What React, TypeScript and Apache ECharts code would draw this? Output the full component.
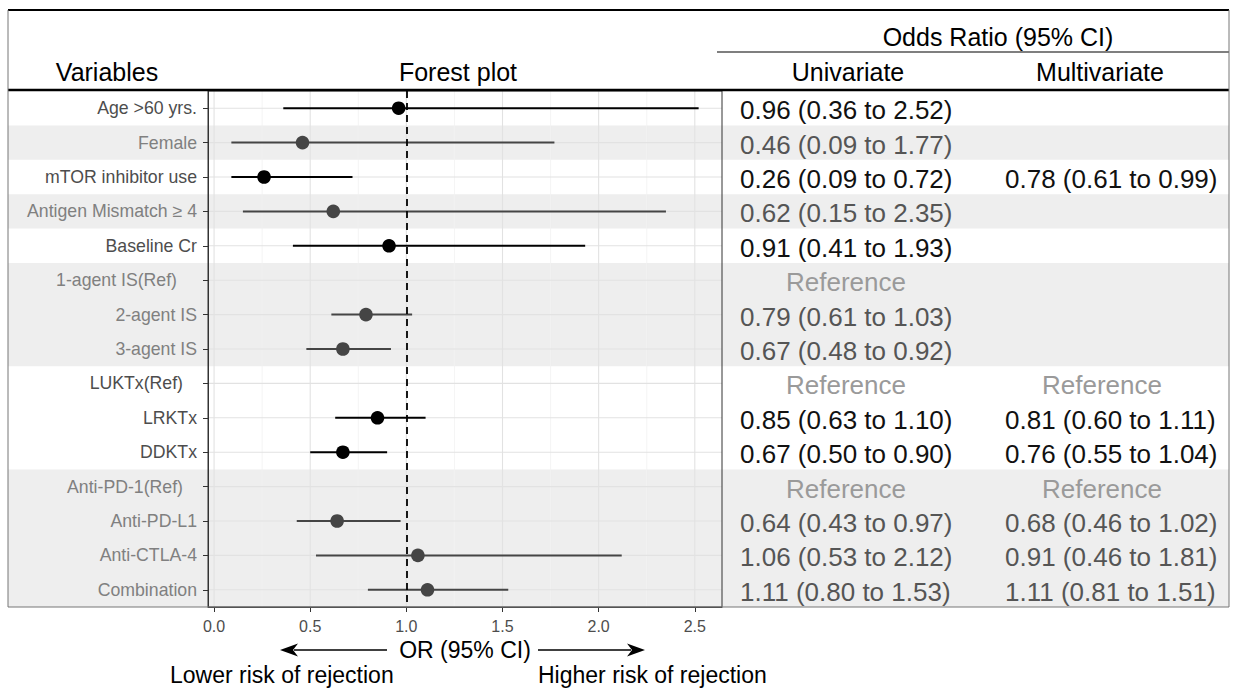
import React, { useEffect, useRef } from "react";
import * as echarts from "echarts";

// ---------- data ----------
const variables = [
  "Age >60 yrs.",
  "Female",
  "mTOR inhibitor use",
  "Antigen Mismatch \u2265 4",
  "Baseline Cr",
  "1-agent IS(Ref)",
  "2-agent IS",
  "3-agent IS",
  "LUKTx(Ref)",
  "LRKTx",
  "DDKTx",
  "Anti-PD-1(Ref)",
  "Anti-PD-L1",
  "Anti-CTLA-4",
  "Combination",
];
const orValues = [0.96, 0.46, 0.26, 0.62, 0.91, null, 0.79, 0.67, null, 0.85, 0.67, null, 0.64, 1.06, 1.11];
const ciLower = [0.36, 0.09, 0.09, 0.15, 0.41, null, 0.61, 0.48, null, 0.63, 0.5, null, 0.43, 0.53, 0.8];
const ciUpper = [2.52, 1.77, 0.72, 2.35, 1.93, null, 1.03, 0.92, null, 1.1, 0.9, null, 0.97, 2.12, 1.53];
const univariateText = [
  "0.96 (0.36 to 2.52)",
  "0.46 (0.09 to 1.77)",
  "0.26 (0.09 to 0.72)",
  "0.62 (0.15 to 2.35)",
  "0.91 (0.41 to 1.93)",
  "Reference",
  "0.79 (0.61 to 1.03)",
  "0.67 (0.48 to 0.92)",
  "Reference",
  "0.85 (0.63 to 1.10)",
  "0.67 (0.50 to 0.90)",
  "Reference",
  "0.64 (0.43 to 0.97)",
  "1.06 (0.53 to 2.12)",
  "1.11 (0.80 to 1.53)",
];
const multivariateText = [
  "",
  "",
  "0.78 (0.61 to 0.99)",
  "",
  "",
  "",
  "",
  "",
  "Reference",
  "0.81 (0.60 to 1.11)",
  "0.76 (0.55 to 1.04)",
  "Reference",
  "0.68 (0.46 to 1.02)",
  "0.91 (0.46 to 1.81)",
  "1.11 (0.81 to 1.51)",
];
const shadedRows = [false, true, false, true, false, true, true, true, false, false, false, true, true, true, true];
const xTicks = [0, 0.5, 1, 1.5, 2, 2.5];
const xMinorTicks = [0.25, 0.75, 1.25, 1.75, 2.25];
const nullLine = 1;

// ---------- layout ----------
const FONT = "'Liberation Sans', Arial, Helvetica, sans-serif";
const W = 1234;
const H = 688;
const PANEL = { left: 208, right: 722, top: 91, bottom: 607 };
const BOX = { left: 8, right: 1229, top: 10, bottom: 607 };
const labelPadRight: Record<number, number> = { 5: 20, 8: 14, 11: 14 };
const COL = { uniLeft: 740, uniCenter: 846, multiLeft: 1005, multiCenter: 1102 };

function buildOption() {
  const lo = Math.min(...(ciLower.filter((v) => v !== null) as number[]));
  const hi = Math.max(...(ciUpper.filter((v) => v !== null) as number[]));
  const pad = (hi - lo) * 0.05;
  const xMin = lo - pad;
  const xMax = hi + pad;

  // contiguous shaded runs
  const runs: number[][] = [];
  shadedRows.forEach((s, i) => {
    if (!s) return;
    const last = runs[runs.length - 1];
    if (last && last[1] === i - 1) last[1] = i;
    else runs.push([i, i]);
  });

  const barData = orValues
    .map((v, i) => (v === null ? null : [v, i, ciLower[i], ciUpper[i], shadedRows[i] ? 1 : 0]))
    .filter((d) => d !== null);

  const gridData = [
    ...xTicks.map((v) => [v, 0, 1]),
    ...xMinorTicks.map((v) => [v, 0, 0]),
  ];

  const rich: any = {};
  variables.forEach((_, i) => {
    rich["r" + i] = {
      color: shadedRows[i] ? "#808080" : "#4d4d4d",
      fontSize: 17.7,
      fontFamily: FONT,
      padding: [0, labelPadRight[i] || 0, 0, 0],
    };
  });

  const txt = (text: string, x: number, y: number, size: number, fill: string, align: string) => ({
    type: "text",
    z: 100,
    style: {
      text,
      x,
      y,
      fill,
      font: `${size}px ${FONT}`,
      fontSize: size,
      fontFamily: FONT,
      textAlign: align,
      textVerticalAlign: "middle",
      align,
      verticalAlign: "middle",
    },
  });
  const ln = (x1: number, y1: number, x2: number, y2: number, stroke: string, lw: number) => ({
    type: "line",
    z: 100,
    shape: { x1, y1, x2, y2 },
    style: { stroke, lineWidth: lw },
  });

  const arrowY = 650;
  const graphics: any[] = [
    // frame
    ln(BOX.left, BOX.top, BOX.right, BOX.top, "#000", 2),
    ln(717, 52, BOX.right, 52, "#000", 1.2),
    ln(BOX.left, 90, BOX.right, 90, "#000", 2.5),
    ln(BOX.left, BOX.top, BOX.left, BOX.bottom, "#777", 1),
    ln(BOX.right, BOX.top, BOX.right, BOX.bottom, "#777", 1),
    ln(BOX.left, BOX.bottom, BOX.right, BOX.bottom, "#777", 1),
    // headers
    txt("Variables", 107, 72, 25, "#000", "center"),
    txt("Forest plot", 458, 72, 25, "#000", "center"),
    txt("Odds Ratio (95% CI)", 998, 37, 25, "#000", "center"),
    txt("Univariate", 848, 72, 25, "#000", "center"),
    txt("Multivariate", 1100, 72, 25, "#000", "center"),
    // arrows
    ln(294, arrowY, 387, arrowY, "#000", 1.6),
    {
      type: "polygon",
      z: 100,
      shape: { points: [[280, arrowY], [298, arrowY - 6.5], [293, arrowY], [298, arrowY + 6.5]] },
      style: { fill: "#000" },
    },
    ln(538, arrowY, 631, arrowY, "#000", 1.6),
    {
      type: "polygon",
      z: 100,
      shape: { points: [[645, arrowY], [627, arrowY - 6.5], [632, arrowY], [627, arrowY + 6.5]] },
      style: { fill: "#000" },
    },
    txt("Lower risk of rejection", 170, 675, 23, "#000", "left"),
    txt("Higher risk of rejection", 538, 675, 23, "#000", "left"),
  ];

  return {
    animation: false,
    textStyle: { fontFamily: FONT },
    grid: {
      left: PANEL.left,
      right: W - PANEL.right,
      top: PANEL.top,
      bottom: H - PANEL.bottom,
      show: true,
      borderColor: "#333",
      borderWidth: 1,
      backgroundColor: "transparent",
    },
    xAxis: {
      type: "value",
      min: xMin,
      max: xMax,
      name: "OR (95% CI)",
      nameLocation: "middle",
      nameGap: 30,
      nameTextStyle: { fontSize: 23, color: "#000", fontFamily: FONT },
      axisLine: { show: true, onZero: false, lineStyle: { color: "#333" } },
      axisTick: { show: true, customValues: xTicks, length: 5, lineStyle: { color: "#333" } },
      axisLabel: {
        customValues: xTicks,
        formatter: (v: number) => v.toFixed(1),
        fontSize: 16,
        color: "#4d4d4d",
        margin: 11,
        fontFamily: FONT,
      },
      splitLine: { show: false },
    },
    yAxis: {
      type: "category",
      data: variables,
      inverse: true,
      axisLine: { show: true, onZero: false, lineStyle: { color: "#333" } },
      axisTick: { show: true, alignWithLabel: true, length: 5, lineStyle: { color: "#333" } },
      axisLabel: {
        margin: 11,
        formatter: (v: string, i: number) => `{r${i}|${v}}`,
        rich,
      },
      splitLine: { show: false },
    },
    graphic: { elements: graphics },
    series: [
      {
        type: "custom",
        name: "bands",
        z: -2,
        silent: true,
        data: runs,
        encode: { y: [0, 1] },
        renderItem: (params: any, api: any) => {
          const s = api.value(0);
          const e = api.value(1);
          const h = api.size([0, 1])[1];
          const y0 = api.coord([0, s])[1] - h / 2;
          const y1 = api.coord([0, e])[1] + h / 2;
          return {
            type: "rect",
            shape: { x: BOX.left, y: y0, width: BOX.right - BOX.left, height: y1 - y0 },
            style: { fill: "#eeeeee" },
          };
        },
      },
      {
        type: "custom",
        name: "vgrid",
        z: -1,
        silent: true,
        data: gridData,
        encode: { x: 0, y: 1 },
        renderItem: (params: any, api: any) => {
          const cs = params.coordSys;
          const x = api.coord([api.value(0), 0])[0];
          const major = api.value(2) === 1;
          return {
            type: "line",
            shape: { x1: x, y1: cs.y, x2: x, y2: cs.y + cs.height },
            style: { stroke: major ? "#e2e2e2" : "#f1f1f1", lineWidth: major ? 1.1 : 0.8 },
          };
        },
      },
      {
        type: "custom",
        name: "hgrid",
        z: -1,
        silent: true,
        data: variables.map((_, i) => [0, i]),
        encode: { x: 0, y: 1 },
        renderItem: (params: any, api: any) => {
          const cs = params.coordSys;
          const y = api.coord([0, api.value(1)])[1];
          return {
            type: "line",
            shape: { x1: cs.x, y1: y, x2: cs.x + cs.width, y2: y },
            style: { stroke: "#e2e2e2", lineWidth: 1.1 },
          };
        },
      },
      {
        type: "custom",
        name: "OR",
        z: 3,
        data: barData,
        encode: { x: [0, 2, 3], y: 1 },
        renderItem: (params: any, api: any) => {
          const y = api.value(1);
          const p = api.coord([api.value(0), y]);
          const pl = api.coord([api.value(2), y]);
          const ph = api.coord([api.value(3), y]);
          const col = api.value(4) === 1 ? "#454545" : "#000";
          return {
            type: "group",
            children: [
              {
                type: "line",
                shape: { x1: pl[0], y1: pl[1], x2: ph[0], y2: ph[1] },
                style: { stroke: col, lineWidth: 2 },
              },
              { type: "circle", shape: { cx: p[0], cy: p[1], r: 6.8 }, style: { fill: col } },
            ],
          };
        },
        markLine: {
          silent: true,
          symbol: "none",
          label: { show: false },
          lineStyle: { type: [7, 5], color: "#000", width: 1.8 },
          data: [{ xAxis: nullLine }],
        },
      },
      {
        type: "custom",
        name: "table",
        z: 4,
        silent: true,
        data: variables.map((_, i) => [0, i]),
        encode: { x: 0, y: 1 },
        renderItem: (params: any, api: any) => {
          const i = api.value(1);
          const y = api.coord([0, i])[1] + 2;
          const children: any[] = [];
          const add = (t: string, leftX: number, centerX: number) => {
            if (!t) return;
            const isRef = t === "Reference";
            const fill = isRef ? "#9a9a9a" : shadedRows[i] ? "#555" : "#111";
            children.push({
              type: "text",
              style: {
                text: t,
                x: isRef ? centerX : leftX,
                y,
                fill,
                font: `26px ${FONT}`,
                textAlign: isRef ? "center" : "left",
                textVerticalAlign: "middle",
                align: isRef ? "center" : "left",
                verticalAlign: "middle",
              },
            });
          };
          add(univariateText[i], COL.uniLeft, COL.uniCenter);
          add(multivariateText[i], COL.multiLeft, COL.multiCenter);
          return { type: "group", children };
        },
      },
    ],
  };
}

export default function App() {
  const ref = useRef<HTMLDivElement>(null);
  useEffect(() => {
    if (!ref.current) return;
    const chart = echarts.init(ref.current, undefined, { renderer: "svg" });
    chart.setOption(buildOption() as any);
    return () => chart.dispose();
  }, []);
  return (
    <div
      ref={ref}
      style={{ position: "absolute", left: 0, top: 0, width: W, height: H, background: "#fff" }}
    />
  );
}
